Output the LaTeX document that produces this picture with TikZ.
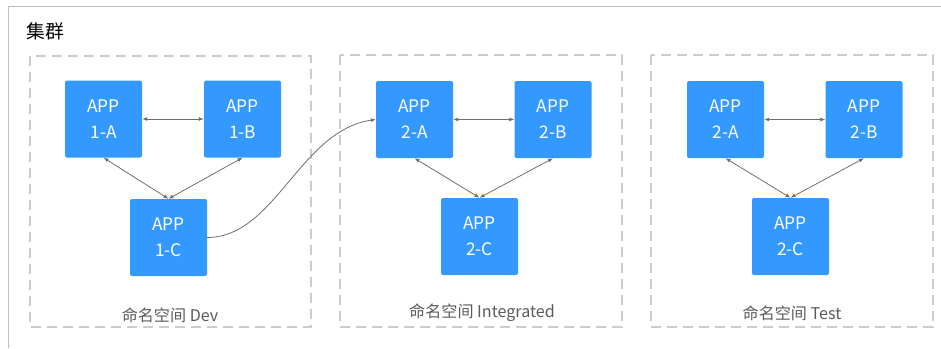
\documentclass[tikz,border=0pt]{standalone}
\usepackage{fontspec}
\setmainfont{Noto Sans CJK SC}
\usepackage{xcolor}
\usepackage{tikz}
\usetikzlibrary{
	arrows.meta,
	calc,
	positioning
}
\definecolor{AppBlue}{RGB}{51,153,255}
\definecolor{LineGray}{RGB}{110,110,110}
\definecolor{DashGray}{RGB}{204,204,204}
\definecolor{FrameGray}{RGB}{190,190,190}
\definecolor{LabelGray}{RGB}{90,90,90}

\tikzset{
	appbox/.style={fill=AppBlue, rounded corners=2pt, minimum width=77pt, minimum height=77pt,
		text=white, align=center, font=\fontsize{17.3}{26}\selectfont, inner sep=0pt},
	nsbox/.style={draw=DashGray, line width=1.3pt, dash pattern=on 10pt off 6pt},
	nslabel/.style={text=LabelGray, font=\fontsize{16.1}{18}\selectfont, inner sep=0pt},
	link/.style={draw=LineGray, line width=0.8pt, {Latex[length=5pt,width=4pt]}-{Latex[length=5pt,width=4pt]}}
}

\begin{document}
\begin{tikzpicture}[x=1pt, y=-1pt]
			\useasboundingbox (0,0) rectangle (941,348);
			% 集群外框
			\draw[FrameGray, line width=1pt] (8,348) -- (8,6) -- (941,6);
			\node[anchor=west, inner sep=0pt, font=\fontsize{18.8}{20}\selectfont] (title) at (26,31) {集群};
			
			% 命名空间
			\draw[nsbox] (30,56) rectangle (311,327);
			\draw[nsbox] (340,55) rectangle (622,327);
			\draw[nsbox] (651,55) rectangle (933,327);
			\node[nslabel] (nsdev) at (170,315) {命名空间 Dev};
			\node[nslabel] (nsint) at (482,313) {命名空间 Integrated};
			\node[nslabel] (nstest) at (792,313) {命名空间 Test};
			
			% Dev
			\node[appbox] (a1) at (103.5,119) {APP\\1-A};
			\node[appbox] (b1) at (242.5,119) {APP\\1-B};
			\node[appbox] (c1) at (168.5,237.5) {APP\\1-C};
			% Integrated
			\node[appbox] (a2) at (414.5,119.5) {APP\\2-A};
			\node[appbox] (b2) at (553,119.5) {APP\\2-B};
			\node[appbox] (c2) at (479.5,236.5) {APP\\2-C};
			% Test
			\node[appbox] (a3) at (725.5,119.5) {APP\\2-A};
			\node[appbox] (b3) at (864,119.5) {APP\\2-B};
			\node[appbox] (c3) at (790.5,236.5) {APP\\2-C};
			
			\foreach \i in {1,2,3}{
				\draw[link] (a\i) -- (b\i);
				\draw[link] (a\i.south) -- (c\i.north);
				\draw[link] (b\i.south) -- (c\i.north);
			}
			
			% 跨命名空间调用
			\draw[LineGray, line width=0.8pt, -{Latex[length=5pt,width=4pt]}]
				(c1.east) .. controls +(68,0) and +(-76,11) .. (a2.west);
		\end{tikzpicture}
\end{document}
